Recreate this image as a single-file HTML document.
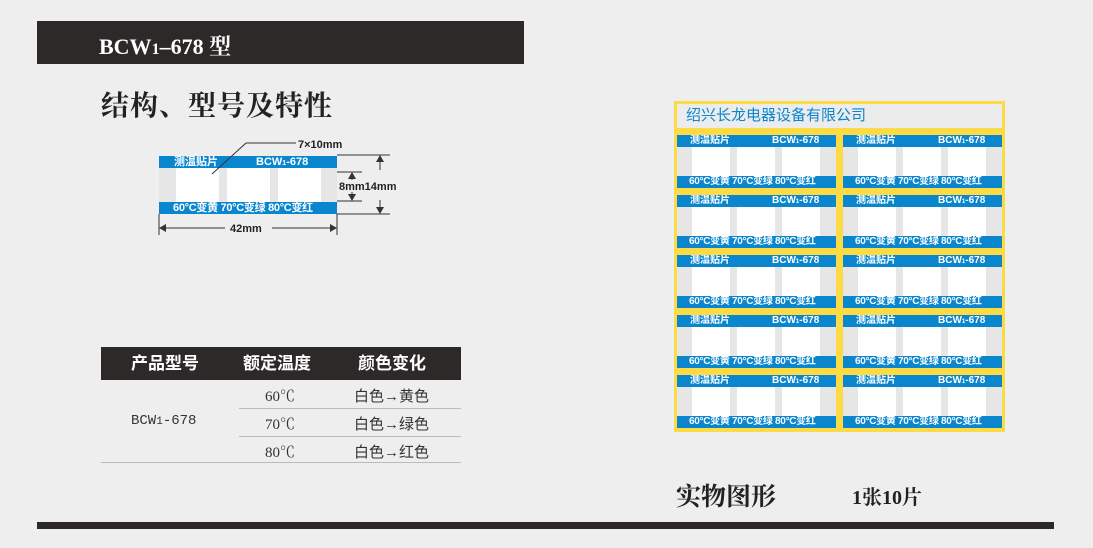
<!DOCTYPE html>
<html><head><meta charset="utf-8"><style>
*{margin:0;padding:0;box-sizing:border-box}
body{width:1093px;height:548px;background:#eeeeee;position:relative;overflow:hidden;font-family:"Liberation Sans","Noto Sans CJK SC",sans-serif}
.a{position:absolute}
.serif{font-family:"Liberation Serif","Noto Serif CJK SC",serif}
.lab{position:absolute;width:159px;height:53px;background:#e6e6e6}
.lab .t,.lab .b{position:absolute;left:0;width:159px;height:12px;background:#0a86cf;color:#fff;font-size:10px;font-weight:bold;line-height:12px;white-space:nowrap;overflow:hidden}
.lab .t{top:0}.lab .b{bottom:0;padding-left:12px;letter-spacing:-0.3px}
.lab .w{position:absolute;top:12px;height:29px;width:38px;background:#fff}
</style></head><body>
<div class="a" style="left:37px;top:21px;width:487px;height:43px;background:#2e2929"></div>
<div class="a serif" style="left:99px;top:30px;color:#fff;font-size:22px;font-weight:bold">BCW<span style="font-size:16px">1</span>–678 型</div>
<div class="a serif" style="left:101px;top:84px;color:#222;font-size:28px;font-weight:bold;letter-spacing:1px">结构、型号及特性</div>

<div class="a" style="left:159px;top:156px;width:178px;height:12px;background:#0a86cf;color:#fff;font-size:11px;font-weight:bold;line-height:12px;white-space:nowrap"><span style="margin-left:15px">测温贴片</span><span style="margin-left:38px">BCW<span style="font-size:7px">1</span>-678</span></div>
<div class="a" style="left:159px;top:168px;width:178px;height:34px;background:#e6e6e6"></div>
<div class="a" style="left:176px;top:168px;width:43px;height:34px;background:#fff"></div>
<div class="a" style="left:227px;top:168px;width:43px;height:34px;background:#fff"></div>
<div class="a" style="left:278px;top:168px;width:43px;height:34px;background:#fff"></div>
<div class="a" style="left:159px;top:202px;width:178px;height:12px;background:#0a86cf;color:#fff;font-size:11px;font-weight:bold;line-height:12px;padding-left:14px;white-space:nowrap;overflow:hidden;letter-spacing:-0.3px">60°C变黄 70°C变绿 80°C变红</div>
<svg class="a" style="left:0;top:0" width="520" height="300">
<g stroke="#333" stroke-width="1" fill="none">
<line x1="246" y1="143" x2="296" y2="143"/><line x1="246" y1="143" x2="212" y2="174"/>
<line x1="337" y1="155" x2="390" y2="155"/><line x1="337" y1="172" x2="362" y2="172"/>
<line x1="337" y1="201" x2="362" y2="201"/><line x1="337" y1="214" x2="390" y2="214"/>
<line x1="380" y1="158" x2="380" y2="170"/><line x1="380" y1="200" x2="380" y2="212"/>
<line x1="352" y1="175" x2="352" y2="180"/><line x1="352" y1="192" x2="352" y2="198"/>
<line x1="159" y1="214" x2="159" y2="235"/><line x1="337" y1="214" x2="337" y2="235"/>
<line x1="162" y1="228" x2="225" y2="228"/><line x1="272" y1="228" x2="334" y2="228"/>
</g>
<g fill="#333">
<polygon points="380,155 376,162 384,162"/><polygon points="380,214 376,207 384,207"/>
<polygon points="352,172 348,179 356,179"/><polygon points="352,201 348,194 356,194"/>
<polygon points="159,228 166,224 166,232"/><polygon points="337,228 330,224 330,232"/>
</g>
<g font-family="Liberation Sans" font-weight="bold" font-size="11" fill="#222">
<text x="298" y="148">7×10mm</text>
<text x="339" y="190">8mm14mm</text>
<text x="230" y="232">42mm</text>
</g>
</svg>

<div class="a" style="left:101px;top:347px;width:360px;height:33px;background:#2e2929;color:#fff;font-size:17px;font-weight:bold;line-height:33px">
<span class="a" style="left:30px">产品型号</span><span class="a" style="left:142px">额定温度</span><span class="a" style="left:257px">颜色变化</span></div>
<div class="a" style="left:239px;top:408px;width:222px;height:1px;background:#bbb"></div>
<div class="a" style="left:239px;top:436px;width:222px;height:1px;background:#bbb"></div>
<div class="a" style="left:101px;top:462px;width:360px;height:1px;background:#bbb"></div>
<div class="a" style="left:131px;top:413px;font-family:'Liberation Mono',monospace;font-size:14px;color:#333">BCW<span style="font-size:11px">1</span>-678</div>
<div class="a serif" style="left:265px;top:385px;font-size:15px;color:#333">60℃</div>
<div class="a serif" style="left:265px;top:413px;font-size:15px;color:#333">70℃</div>
<div class="a serif" style="left:265px;top:441px;font-size:15px;color:#333">80℃</div>
<div class="a" style="left:354px;top:385px;font-size:15px;color:#333">白色→黄色</div>
<div class="a" style="left:354px;top:413px;font-size:15px;color:#333">白色→绿色</div>
<div class="a" style="left:354px;top:441px;font-size:15px;color:#333">白色→红色</div>

<div class="a" style="left:674px;top:101px;width:331px;height:331px;background:#fcdb45"></div>
<div class="a" style="left:677px;top:104px;width:325px;height:24px;background:#ececec;color:#0a86cf;font-size:15px;line-height:24px;padding-left:9px">绍兴长龙电器设备有限公司</div>
<div id="sheet"></div>
<script>
var h='';
for(var r=0;r<5;r++)for(var c=0;c<2;c++){
var x=c?843:677,y=135+r*60;
h+='<div class="lab" style="left:'+x+'px;top:'+y+'px"><div class="t"><span style="margin-left:13px">测温贴片</span><span style="margin-left:42px">BCW<span style="font-size:6px">1</span>-678</span></div>'+
'<div class="w" style="left:15px"></div><div class="w" style="left:60px"></div><div class="w" style="left:105px"></div>'+
'<div class="b">60°C变黄 70°C变绿 80°C变红</div></div>';}
document.getElementById('sheet').innerHTML=h;
</script>

<div class="a serif" style="left:676px;top:477px;font-size:25px;font-weight:bold;color:#222">实物图形</div>
<div class="a serif" style="left:852px;top:481px;font-size:20px;font-weight:bold;color:#222">1张10片</div>
<div class="a" style="left:37px;top:522px;width:1017px;height:7px;background:#2e2929"></div>
</body></html>
